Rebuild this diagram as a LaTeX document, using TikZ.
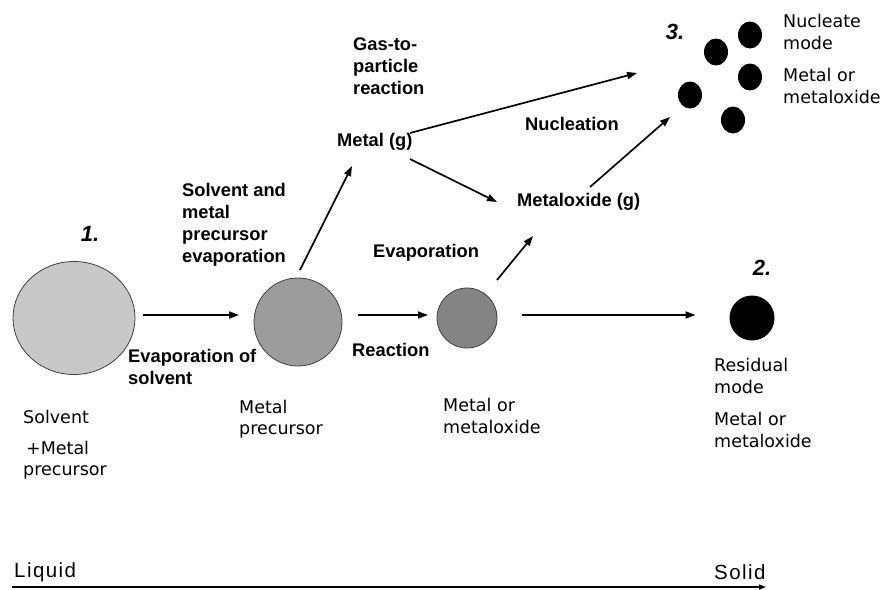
\documentclass[tikz,border=0pt]{standalone}
\usepackage{fontspec}
\setmainfont{Liberation Sans}
\newfontfamily\dv{DejaVu Sans}
\newfontfamily\lbs[LetterSpace=7]{Liberation Sans}
\usetikzlibrary{arrows.meta,shapes.geometric}
\definecolor{gA}{HTML}{C8C8C8}
\definecolor{gB}{HTML}{9C9C9C}
\definecolor{gC}{HTML}{848484}
\tikzset{
  drop/.style={circle,draw=black!75,line width=0.8pt,inner sep=0pt,outer sep=0pt},
  dot/.style={ellipse,fill=black,inner sep=0pt,outer sep=0pt,minimum width=24pt,minimum height=27pt},
  blab/.style={anchor=west,inner sep=0pt,align=left,font=\bfseries\fontsize{18.3}{22}\selectfont},
  rlab/.style={anchor=west,inner sep=0pt,align=left,font=\dv\fontsize{17.5}{21.5}\selectfont},
  plab/.style={anchor=west,inner sep=0pt,font=\lbs\fontsize{20.5}{22}\selectfont},
  num/.style={inner sep=0pt,font=\bfseries\itshape\fontsize{22}{24}\selectfont},
  arr/.style={line width=1.7pt,-{Triangle[length=10pt,width=7pt]}},
}
\begin{document}
\begin{tikzpicture}[x=1pt,y=-1pt]
\useasboundingbox (0,0) rectangle (888,589);
% droplets
\node[drop,ellipse,fill=gA,minimum width=122pt,minimum height=113pt] (c1) at (74,318) {};
\node[drop,fill=gB,minimum size=88pt] (c2) at (298,322) {};
\node[drop,fill=gC,minimum size=60pt] (c3) at (467,318) {};
\node[circle,fill=black,inner sep=0pt,outer sep=0pt,minimum size=45pt] (c4) at (752,318) {};
% nucleate particles
\node[dot] (n1) at (750,35) {};
\node[dot] (n2) at (716,52) {};
\node[dot] (n3) at (750,77) {};
\node[dot] (n4) at (690,95) {};
\node[dot] (n5) at (733,120) {};
% numbers
\node[num] (k1) at (90,234) {1.};
\node[num] (k2) at (762,268) {2.};
\node[num] (k3) at (675,32) {3.};
% bold labels
\node[blab] (t1) at (182,225) {Solvent and\\metal\\precursor\\evaporation};
\node[blab] (t2) at (128,367) {Evaporation of\\solvent};
\node[blab] (t3) at (352,350) {Reaction};
\node[blab] (t4) at (373,253) {Evaporation};
\node[blab] (metal) at (337,142) {Metal (g)};
\node[blab] (metox) at (517,202) {Metaloxide (g)};
\node[blab] (t5) at (525,124) {Nucleation};
\node[blab] (t6) at (353,66) {Gas-to-\\particle\\reaction};
% regular labels
\node[rlab] (r1) at (783,32) {Nucleate\\mode};
\node[rlab] (r2) at (783,86) {Metal or\\metaloxide};
\node[rlab] (r3) at (714,376) {Residual\\mode};
\node[rlab] (r4) at (714,430) {Metal or\\metaloxide};
\node[rlab] (r5) at (23,417) {Solvent};
\node[rlab] (r6) at (23,460) {\,+Metal\\precursor};
\node[rlab] (r7) at (239,419) {Metal\\precursor};
\node[rlab] (r8) at (443,416) {Metal or\\metaloxide};
% arrows
\draw[arr] ([shift={(8,-3)}]c1.east) -- ([shift={(-15,-7)}]c2.west);
\draw[arr] ([shift={(16,-7)}]c2.east) -- ([shift={(-9,-3)}]c3.west);
\draw[arr] ([shift={(25,-3)}]c3.east) -- ([shift={(-34,-3)}]c4.west);
\draw[arr] ([shift={(2,-8)}]c2.north) -- ([shift={(15,24)}]metal.west);
\draw[arr] ([shift={(73,17)}]metal.west) -- ([shift={(-20,0)}]metox.west);
\draw[arr] ([shift={(30,-38)}]c3.center) -- ([shift={(16,34)}]metox.west);
\draw[arr] ([shift={(73,-9)}]metal.west) -- ([shift={(-53,-22)}]n4.center);
\draw[arr] ([shift={(73,-15)}]metox.west) -- ([shift={(-20,22)}]n4.center);
% phase axis
\node[plab] (liq) at (14,572) {Liquid};
\node[plab] (sol) at (714,572) {Solid};
\coordinate (ax1) at (12,587);
\coordinate (ax2) at (766,587);
\draw[line width=1.2pt,-{Triangle[length=7pt,width=5pt]}] (ax1) -- (ax2);
\end{tikzpicture}
\end{document}
